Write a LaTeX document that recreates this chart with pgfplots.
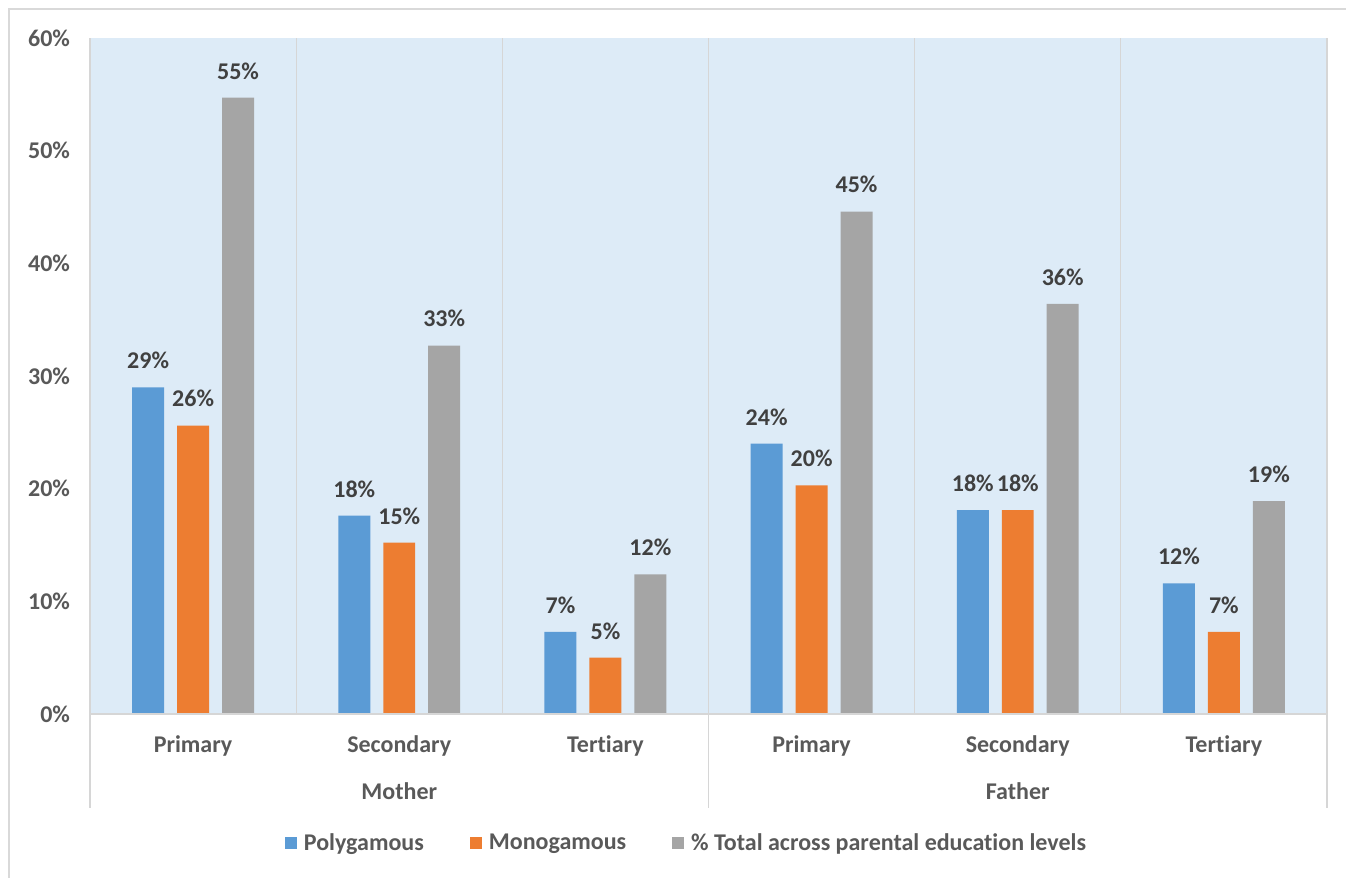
\documentclass[border=0pt]{standalone}
\usepackage{pgfplots}
\pgfplotsset{compat=1.18}
\usepackage{fontspec}
\setmainfont{Carlito}[Ligatures=NoCommon]
\definecolor{cPoly}{HTML}{5B9BD5}
\definecolor{cMono}{HTML}{ED7D31}
\definecolor{cTot}{HTML}{A5A5A5}
\definecolor{plotbg}{HTML}{DDEBF7}
\definecolor{sepline}{HTML}{D6D6D6}
\definecolor{framecol}{HTML}{D9D9D9}
\definecolor{labcol}{HTML}{595959}
\definecolor{valcol}{HTML}{404040}
\newcommand{\chartfont}{\fontsize{12}{14}\selectfont\bfseries}

% columns: position, polygamous, monogamous, total
\pgfplotstableread{
x  poly  mono  tot
0  29.0  25.6  54.7
1  17.6  15.2  32.7
2  7.3   5.0   12.4
3  24.0  20.3  44.6
4  18.1  18.1  36.4
5  11.6  7.3   18.9
}\edudata

\begin{document}
\begin{tikzpicture}
% outer frame
\draw[framecol, line width=1pt] (4.5pt,0pt) -- (4.5pt,434.5pt) -- (673pt,434.5pt);
\begin{axis}[
  at={(45pt,82pt)}, anchor=south west,
  scale only axis, width=618.5pt, height=338pt,
  xmin=-0.5, xmax=5.5, ymin=0, ymax=60,
  axis background/.style={fill=plotbg},
  axis line style={draw=none},
  major tick length=0pt,
  tick style={draw=none},
  xtick={0,...,5},
  xticklabels={Primary,Secondary,Tertiary,Primary,Secondary,Tertiary},
  ytick={0,10,...,60},
  yticklabel={\pgfmathprintnumber{\tick}\%},
  /pgf/number format/assume math mode=true,
  ticklabel style={font=\chartfont, text=labcol},
  xticklabel style={anchor=base, yshift=-19.5pt},
  yticklabel style={anchor=east, xshift=-6.5pt},
  ybar, bar width=0.155,
  nodes near coords={\pgfmathprintnumber[fixed,precision=0]{\pgfplotspointmeta}\%},
  every node near coord/.append style={font=\chartfont, text=valcol, anchor=south, inner sep=0pt, yshift=9pt},
  clip=false,
  legend columns=3,
  legend style={draw=none, fill=none, at={(0.483,-0.191)}, anchor=center,
    font=\chartfont, text=labcol,
    /tikz/every odd column/.append style={column sep=1.5pt},
    /tikz/every even column/.append style={column sep=21pt}},
  sq/.style={legend image code/.code={\fill[##1] (0pt,-3pt) rectangle (6pt,3pt);}},
]
\addplot[fill=cPoly, draw=none, bar shift=-0.218, sq] table[x=x, y=poly] {\edudata};
\addplot[fill=cMono, draw=none, bar shift=0, sq] table[x=x, y=mono] {\edudata};
\addplot[fill=cTot, draw=none, bar shift=0.218, sq] table[x=x, y=tot] {\edudata};
\legend{Polygamous, Monogamous, \% Total across parental education levels}

% category separators and axis lines
\pgfplotsinvokeforeach{0.5,1.5,3.5,4.5}{
  \draw[sepline, line width=0.6pt] (axis cs:#1,0) -- (axis cs:#1,60);
}
\pgfplotsinvokeforeach{-0.5,2.5,5.5}{
  \draw[sepline, line width=0.6pt] (axis cs:#1,60) -- ([yshift=-47pt]axis cs:#1,0);
}
\draw[sepline, line width=0.6pt] (axis cs:-0.5,0) -- (axis cs:5.5,0);

% group labels
\node[font=\chartfont, text=labcol, anchor=base] at ([yshift=-43pt]axis cs:1,0) {Mother};
\node[font=\chartfont, text=labcol, anchor=base] at ([yshift=-43pt]axis cs:4,0) {Father};
\end{axis}
\pgfresetboundingbox
\path[use as bounding box] (0pt,0pt) rectangle (673pt,439pt);
\end{tikzpicture}
\end{document}
